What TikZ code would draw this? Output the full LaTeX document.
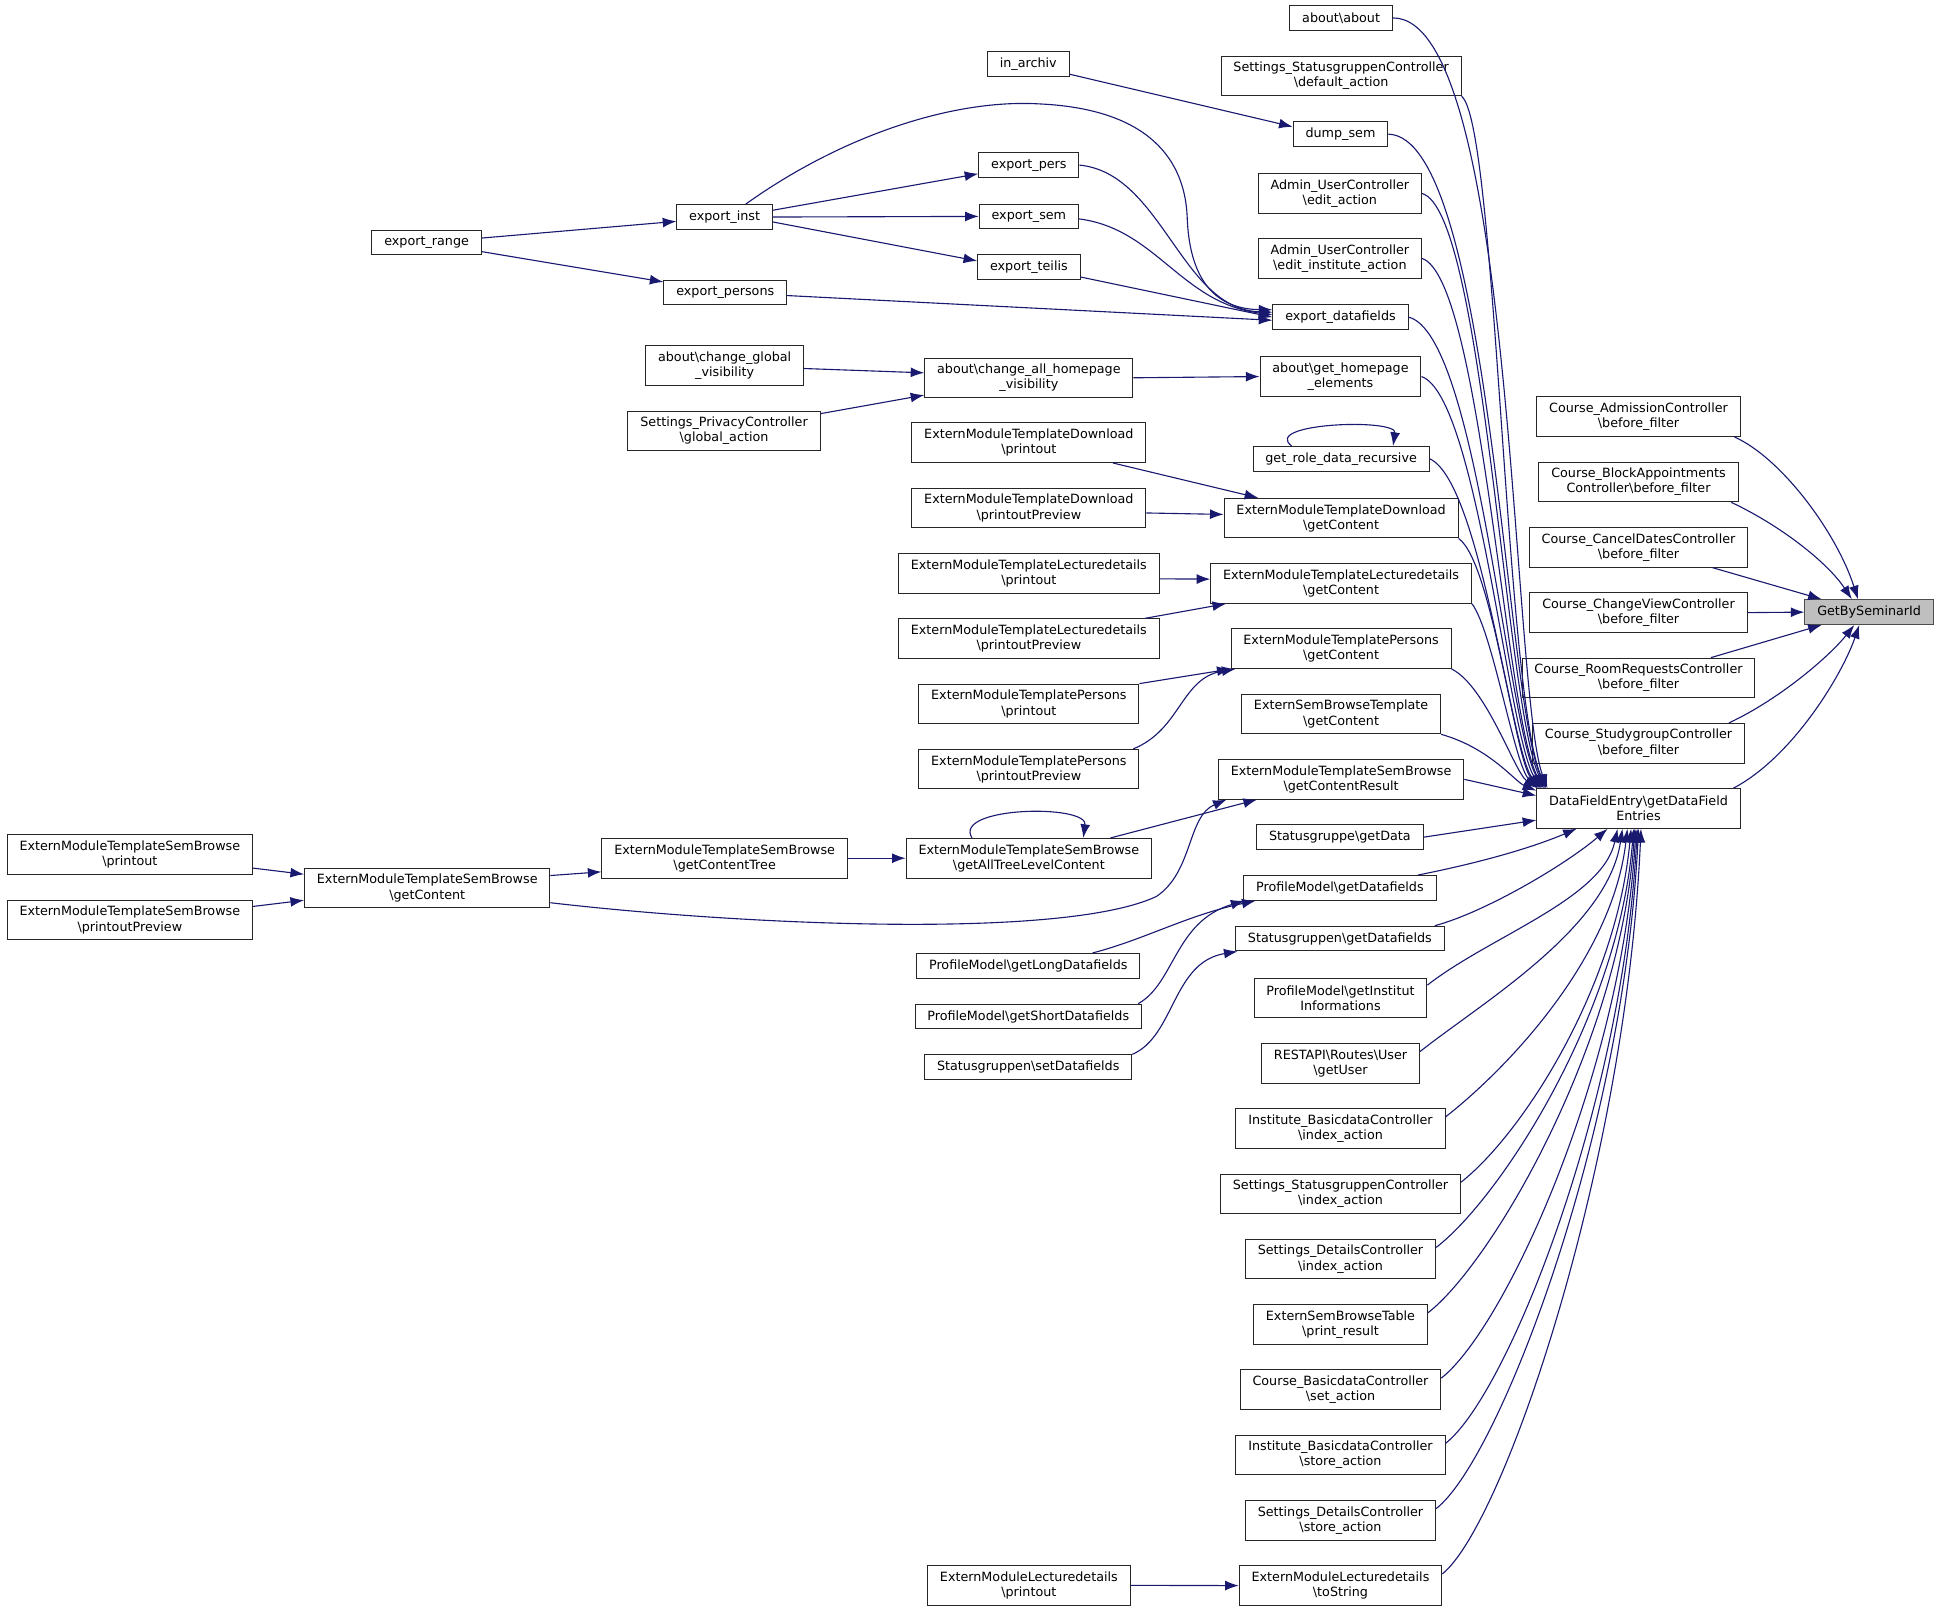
\documentclass[tikz,border=0pt]{standalone}
\usepackage{fontspec}
\setmainfont{DejaVu Sans}
\usepackage{tikz}
\usetikzlibrary{arrows.meta,positioning}
\definecolor{grey75}{rgb}{0.75,0.75,0.75}
\definecolor{midnight}{RGB}{25,25,112}
\newcommand{\dxfont}{\fontsize{10.3}{12.3}\selectfont}
\tikzstyle{fn} = [draw=black!85, fill=white, rectangle, line width=0.8pt,
    font=\dxfont, align=center, inner xsep=10pt, inner ysep=0pt, minimum height=20pt]
\tikzstyle{fnn} = [fn, minimum height=32pt]
\tikzstyle{cur} = [fn, fill=grey75, draw=black!70]
\tikzstyle{call} = [->, draw=midnight, line width=0.9pt]

\begin{document}
\begin{tikzpicture}[x=1pt, y=-1pt, node distance=52.8pt, on grid, >={Latex[length=11pt,width=8pt]}]
    \useasboundingbox (0,0) rectangle (1568,1304);

    % the documented function
    \node [cur] (gbs) at (1511.5,495) {GetBySeminarId};

    % direct callers
    \node [fnn] (cadm) at (1325,337) {Course\_AdmissionController\\\textbackslash before\_filter};
    \node [fnn, below=of cadm] (cblk) {Course\_BlockAppointments\\Controller\textbackslash before\_filter};
    \node [fnn, below=of cblk] (ccan) {Course\_CancelDatesController\\\textbackslash before\_filter};
    \node [fnn, below=of ccan] (cchv) {Course\_ChangeViewController\\\textbackslash before\_filter};
    \node [fnn, below=of cchv] (croom) {Course\_RoomRequestsController\\\textbackslash before\_filter};
    \node [fnn, below=of croom] (cstud) {Course\_StudygroupController\\\textbackslash before\_filter};
    \node [fnn, below=of cstud] (dfe) {DataFieldEntry\textbackslash getDataField\\Entries};

    % callers of getDataFieldEntries
    \node [fn] (about) at (1084.5,14.5) {about\textbackslash about};
    \node [fnn] (sdef) at (1084.5,61.5) {Settings\_StatusgruppenController\\\textbackslash default\_action};
    \node [fn] (dump) at (1084,108.5) {dump\_sem};
    \node [fnn] (aedit) at (1083.5,156.5) {Admin\_UserController\\\textbackslash edit\_action};
    \node [fnn] (aeditinst) at (1083.5,209) {Admin\_UserController\\\textbackslash edit\_institute\_action};
    \node [fn] (expdf) at (1084,256.5) {export\_datafields};
    \node [fnn] (gethp) at (1084,304.5) {about\textbackslash get\_homepage\\\_elements};
    \node [fn] (grdr) at (1084.5,371) {get\_role\_data\_recursive};
    \node [fnn] (etdgc) at (1084.5,419) {ExternModuleTemplateDownload\\\textbackslash getContent};
    \node [fnn, below=of etdgc] (etlgc) {ExternModuleTemplateLecturedetails\\\textbackslash getContent};
    \node [fnn, below=of etlgc] (etpgc) {ExternModuleTemplatePersons\\\textbackslash getContent};
    \node [fnn, below=of etpgc] (esbt) {ExternSemBrowseTemplate\\\textbackslash getContent};
    \node [fnn, below=of esbt] (etsgcr) {ExternModuleTemplateSemBrowse\\\textbackslash getContentResult};
    \node [fn] (sgdata) at (1083.5,677) {Statusgruppe\textbackslash getData};
    \node [fn] (pmgd) at (1083.5,718) {ProfileModel\textbackslash getDatafields};
    \node [fn] (sggd) at (1083.5,759) {Statusgruppen\textbackslash getDatafields};
    \node [fnn] (pmgii) at (1084,807) {ProfileModel\textbackslash getInstitut\\Informations};
    \node [fnn, below=of pmgii] (rest) {RESTAPI\textbackslash Routes\textbackslash User\\\textbackslash getUser};
    \node [fnn, below=of rest] (ibidx) {Institute\_BasicdataController\\\textbackslash index\_action};
    \node [fnn, below=of ibidx] (ssidx) {Settings\_StatusgruppenController\\\textbackslash index\_action};
    \node [fnn, below=of ssidx] (sdidx) {Settings\_DetailsController\\\textbackslash index\_action};
    \node [fnn, below=of sdidx] (esbtab) {ExternSemBrowseTable\\\textbackslash print\_result};
    \node [fnn, below=of esbtab] (cbset) {Course\_BasicdataController\\\textbackslash set\_action};
    \node [fnn, below=of cbset] (ibstore) {Institute\_BasicdataController\\\textbackslash store\_action};
    \node [fnn, below=of ibstore] (sdstore) {Settings\_DetailsController\\\textbackslash store\_action};
    \node [fnn, below=of sdstore] (emltos) {ExternModuleLecturedetails\\\textbackslash toString};

    % third level
    \node [fn] (inarch) at (831.5,52) {in\_archiv};
    \node [fn] (exppers) at (832,133.5) {export\_pers};
    \node [fn] (expsem) at (832,175) {export\_sem};
    \node [fn] (expteil) at (832,216) {export\_teilis};
    \node [fnn] (chall) at (832,305.5) {about\textbackslash change\_all\_homepage\\\_visibility};
    \node [fnn] (etdpr) at (832,358) {ExternModuleTemplateDownload\\\textbackslash printout};
    \node [fnn, below=of etdpr] (etdpp) {ExternModuleTemplateDownload\\\textbackslash printoutPreview};
    \node [fnn, below=of etdpp] (etlpr) {ExternModuleTemplateLecturedetails\\\textbackslash printout};
    \node [fnn, below=of etlpr] (etlpp) {ExternModuleTemplateLecturedetails\\\textbackslash printoutPreview};
    \node [fnn, below=of etlpp] (etppr) {ExternModuleTemplatePersons\\\textbackslash printout};
    \node [fnn, below=of etppr] (etppp) {ExternModuleTemplatePersons\\\textbackslash printoutPreview};
    \node [fnn] (etsatl) at (832,694) {ExternModuleTemplateSemBrowse\\\textbackslash getAllTreeLevelContent};
    \node [fn] (pmlong) at (831.5,781) {ProfileModel\textbackslash getLongDatafields};
    \node [fn] (pmshort) at (831.5,822) {ProfileModel\textbackslash getShortDatafields};
    \node [fn] (sgset) at (831.5,863) {Statusgruppen\textbackslash setDatafields};
    \node [fnn] (emlpr) at (832,1282) {ExternModuleLecturedetails\\\textbackslash printout};

    % fourth level
    \node [fn] (expinst) at (586,175.5) {export\_inst};
    \node [fn] (exppersons) at (586.5,236.5) {export\_persons};
    \node [fnn] (chglob) at (586,295.5) {about\textbackslash change\_global\\\_visibility};
    \node [fnn] (sprivacy) at (585.5,348.5) {Settings\_PrivacyController\\\textbackslash global\_action};
    \node [fnn] (etsct) at (586,694) {ExternModuleTemplateSemBrowse\\\textbackslash getContentTree};

    % fifth and sixth level
    \node [fn] (exprange) at (345,196) {export\_range};
    \node [fnn] (etsgc) at (345.5,718) {ExternModuleTemplateSemBrowse\\\textbackslash getContent};
    \node [fnn] (etspr) at (105,691) {ExternModuleTemplateSemBrowse\\\textbackslash printout};
    \node [fnn] (etspp) at (105,744) {ExternModuleTemplateSemBrowse\\\textbackslash printoutPreview};

    % edges into GetBySeminarId
    \draw [call] ([xshift=-5pt]cadm.south east) .. controls (1440,370) and (1485,430) .. ([xshift=-9pt]gbs.north);
    \draw [call] ([xshift=-6pt]cblk.south east) .. controls (1440,425) and (1478,455) .. ([xshift=-14pt]gbs.north);
    \draw [call] ([xshift=-29pt]ccan.south east) -- ([xshift=14pt]gbs.north west);
    \draw [call] (cchv.east) -- (gbs.west);
    \draw [call] ([xshift=-36pt]croom.north east) -- ([xshift=14pt]gbs.south west);
    \draw [call] ([xshift=-13pt]cstud.north east) .. controls (1440,565) and (1480,530) .. ([xshift=-12pt]gbs.south);
    \draw [call] ([xshift=-6pt]dfe.north east) .. controls (1450,612) and (1490,545) .. ([xshift=-8pt]gbs.south);

    % edges into getDataFieldEntries, from above
    \draw [call] (about.east) .. controls (1225,14) and (1222,560) .. ([xshift=9pt]dfe.north west);
    \draw [call] (sdef.south east) .. controls (1210,100) and (1217,560) .. ([xshift=8pt]dfe.north west);
    \draw [call] (dump.east) .. controls (1205,110) and (1217,565) .. ([xshift=8pt]dfe.north west);
    \draw [call] (aedit.east) .. controls (1200,170) and (1217,570) .. ([xshift=7pt]dfe.north west);
    \draw [call] (aeditinst.east) .. controls (1198,225) and (1217,580) .. ([xshift=6pt]dfe.north west);
    \draw [call] (expdf.east) .. controls (1195,270) and (1219,590) .. ([xshift=6pt]dfe.north west);
    \draw [call] (gethp.east) .. controls (1195,320) and (1220,600) .. ([xshift=5pt]dfe.north west);
    \draw [call] (grdr.east) .. controls (1198,390) and (1222,610) .. ([xshift=4pt]dfe.north west);
    \draw [call] (etdgc.south east) .. controls (1207,455) and (1225,615) .. ([xshift=3pt]dfe.north west);
    \draw [call] (etlgc.south east) .. controls (1207,510) and (1225,620) .. ([xshift=2pt]dfe.north west);
    \draw [call] (etpgc.south east) .. controls (1202,555) and (1225,625) .. ([xshift=1pt]dfe.north west);
    \draw [call] (esbt.south east) .. controls (1205,605) and (1225,632) .. ([yshift=-2pt]dfe.north west);
    \draw [call] (etsgcr.east) -- ([yshift=-6pt]dfe.north west);
    \draw [call] (sgdata.east) -- ([yshift=7pt]dfe.south west);

    % edges into getDataFieldEntries, from below
    \draw [call] ([xshift=-15pt]pmgd.north east) .. controls (1200,697) and (1240,685) .. ([xshift=-50pt]dfe.south);
    \draw [call] ([xshift=-8pt]sggd.north east) .. controls (1200,738) and (1265,700) .. ([xshift=-25pt]dfe.south);
    \draw [call] ([yshift=-6pt]pmgii.north east) .. controls (1205,757) and (1296,727) .. ([xshift=-17pt]dfe.south);
    \draw [call] ([yshift=-7pt]rest.north east) .. controls (1198,811) and (1300,751) .. ([xshift=-13pt]dfe.south);
    \draw [call] ([yshift=-7pt]ibidx.north east) .. controls (1219,864) and (1304,775) .. ([xshift=-9pt]dfe.south);
    \draw [call] ([yshift=-7pt]ssidx.north east) .. controls (1231,917) and (1307,799) .. ([xshift=-6pt]dfe.south);
    \draw [call] ([yshift=-7pt]sdidx.north east) .. controls (1212,970) and (1309,822) .. ([xshift=-4pt]dfe.south);
    \draw [call] ([yshift=-7pt]esbtab.north east) .. controls (1205,1023) and (1310,846) .. ([xshift=-3pt]dfe.south);
    \draw [call] ([yshift=-7pt]cbset.north east) .. controls (1216,1075) and (1311,870) .. ([xshift=-2pt]dfe.south);
    \draw [call] ([yshift=-7pt]ibstore.north east) .. controls (1219,1128) and (1312,894) .. ([xshift=-1pt]dfe.south);
    \draw [call] ([yshift=-7pt]sdstore.north east) .. controls (1212,1181) and (1313,917) .. (dfe.south);
    \draw [call] ([yshift=-7pt]emltos.north east) .. controls (1216,1233) and (1315,941) .. ([xshift=2pt]dfe.south);

    % export chain
    \draw [call] ([yshift=-8pt]inarch.east) -- ([yshift=6pt]dump.west);
    \draw [call] ([yshift=5.5pt]expinst.east) -- ([yshift=-7pt]exppers.west);
    \draw [call] (expinst.east) -- (expsem.west);
    \draw [call] ([yshift=-4pt]expinst.east) -- ([yshift=5pt]expteil.west);
    \draw [call] ([xshift=17pt]expinst.north) .. controls (680,110) and (770,80) .. (840,84)
        .. controls (930,88) and (958,130) .. (960,175)
        .. controls (962,235) and (990,250) .. ([yshift=6pt]expdf.west);
    \draw [call] (exppers.east) .. controls (940,140) and (955,250) .. ([yshift=4pt]expdf.west);
    \draw [call] ([yshift=-2pt]expsem.east) .. controls (935,185) and (955,245) .. ([yshift=2pt]expdf.west);
    \draw [call] ([yshift=-8pt]expteil.east) -- (expdf.west);
    \draw [call] ([yshift=-2.5pt]exppersons.east) -- ([yshift=-2.5pt]expdf.west);
    \draw [call] ([yshift=3.5pt]exprange.east) -- ([yshift=-3.5pt]expinst.west);
    \draw [call] ([yshift=-7.5pt]exprange.east) -- ([yshift=8.5pt]exppersons.west);

    % homepage visibility
    \draw [call] ([yshift=-2.5pt]chglob.east) -- ([yshift=4pt]chall.west);
    \draw [call] ([yshift=14pt]sprivacy.east) -- ([yshift=-14pt]chall.west);
    \draw [call] (chall.east) -- (gethp.west);
    \draw [call] ([xshift=-40pt]grdr.north) .. controls (1020,342) and (1130,338) .. ([xshift=42pt]grdr.north);

    % extern module templates
    \draw [call] ([xshift=68pt]etdpr.south) -- ([xshift=-67pt]etdgc.north);
    \draw [call] ([yshift=-4pt]etdpp.east) -- ([yshift=3pt]etdgc.west);
    \draw [call] ([yshift=-4.5pt]etlpr.east) -- ([yshift=3.5pt]etlgc.west);
    \draw [call] ([xshift=94pt]etlpp.north) -- ([xshift=-93pt]etlgc.south);
    \draw [call] (etppr.north east) -- (etpgc.south west);
    \draw [call] ([xshift=-5pt]etppp.north east) .. controls (955,590) and (955,548) .. ([xshift=4pt]etpgc.south west);
    \draw [call] ([xshift=66pt]etsatl.north) -- ([xshift=-68pt]etsgcr.south);
    \draw [call] ([xshift=-46pt]etsatl.north) .. controls (770,652) and (880,650) .. ([xshift=44pt]etsatl.north);
    \draw [call] (etsct.east) -- (etsatl.west);
    \draw [call] ([yshift=10pt]etsgc.east) -- ([yshift=-11pt]etsct.west);
    \draw [call] ([yshift=-12pt]etsgc.east) .. controls (600,748) and (860,760) .. (935,725)
        .. controls (965,705) and (960,660) .. ([xshift=7pt]etsgcr.south west);
    \draw [call] ([yshift=-11pt]etspr.east) -- ([yshift=11pt]etsgc.west);
    \draw [call] ([yshift=11pt]etspp.east) -- ([yshift=-10pt]etsgc.west);

    % profile model and status groups
    \draw [call] ([xshift=52pt]pmlong.north) .. controls (925,760) and (960,740) .. ([xshift=10pt]pmgd.south west);
    \draw [call] ([xshift=-3pt]pmshort.north east) .. controls (950,795) and (950,745) .. ([xshift=1pt]pmgd.south west);
    \draw [call] (sgset.north east) .. controls (950,838) and (948,778) .. ([xshift=2pt]sggd.south west);
    \draw [call] (emlpr.east) -- (emltos.west);
\end{tikzpicture}
\end{document}
